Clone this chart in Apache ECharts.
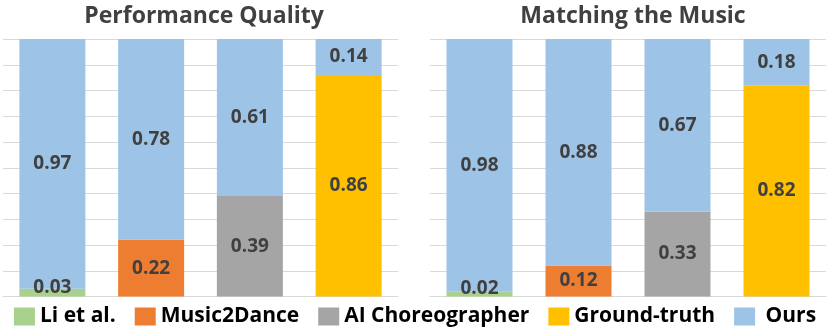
<!DOCTYPE html>
<html>
<head>
<meta charset="utf-8">
<script src="https://cdn.jsdelivr.net/npm/echarts@6/dist/echarts.min.js"></script>
<style>html,body{margin:0;padding:0;background:#fff;}#c{width:830px;height:336px;}</style>
</head>
<body>
<div id="c"></div>
<script>
const categories = ['Li et al.', 'Music2Dance', 'AI Choreographer', 'Ground-truth'];
const oursName = 'Ours';
const panelTitles = ['Performance Quality', 'Matching the Music'];
const perfBaseline = [0.03, 0.22, 0.39, 0.86];
const perfOurs = [0.97, 0.78, 0.61, 0.14];
const matchBaseline = [0.02, 0.12, 0.33, 0.82];
const matchOurs = [0.98, 0.88, 0.67, 0.18];

const colors = ['#A9D18E', '#ED7D31', '#A5A5A5', '#FFC000'];
const oursColor = '#9DC3E6';
const FONT = 'Open Sans';

const panels = [
  { base: perfBaseline, ours: perfOurs },
  { base: matchBaseline, ours: matchOurs }
];

const grids = [
  { left: 3, right: 432, top: 39, bottom: 39.5 },
  { left: 430, right: 4, top: 39, bottom: 39.5 }
];

const labelStyle = {
  show: true, position: 'inside', fontFamily: FONT, fontWeight: 'bold',
  fontSize: 19, color: '#404040',
  formatter: p => Number(p.value).toFixed(2)
};

const series = [];
panels.forEach((pan, g) => {
  categories.forEach((name, i) => {
    series.push({
      name, type: 'bar', xAxisIndex: g, yAxisIndex: g, stack: 's' + g,
      barWidth: 66, itemStyle: { color: colors[i] },
      label: Object.assign({}, labelStyle, pan.base[i] < 0.05 ? { offset: [0, -5] } : {}),
      data: pan.base.map((v, j) => j === i ? v : '-')
    });
  });
  series.push({
    name: oursName, type: 'bar', xAxisIndex: g, yAxisIndex: g, stack: 's' + g,
    barWidth: 66, itemStyle: { color: oursColor },
    label: labelStyle,
    data: pan.ours.slice()
  });
});

const option = {
  animation: false,
  color: colors.concat([oursColor]),
  title: panelTitles.map((t, g) => ({
    text: t, left: g === 0 ? 199 : 628, top: 0, textAlign: 'center',
    textStyle: { fontFamily: FONT, fontWeight: 'bold', fontSize: 23, color: '#404040' }
  })),
  legend: {
    data: categories.concat([oursName]), bottom: 4, left: 'center',
    icon: 'rect', itemWidth: 21, itemHeight: 18, itemGap: 19,
    formatter: n => n === oursName ? ' ' + n : n,
    textStyle: { fontFamily: FONT, fontWeight: 'bold', fontSize: 21, color: '#000' }
  },
  grid: grids,
  xAxis: grids.map((_, g) => ({
    type: 'category', gridIndex: g, data: categories,
    axisLine: { lineStyle: { color: '#D9D9D9' } },
    axisTick: { show: false }, axisLabel: { show: false }
  })),
  yAxis: grids.map((_, g) => ({
    type: 'value', gridIndex: g, min: 0, max: 1, interval: 0.1,
    axisLine: { show: false }, axisTick: { show: false }, axisLabel: { show: false },
    splitLine: { lineStyle: { color: '#D9D9D9' } }
  })),
  series
};
const chart = echarts.init(document.getElementById('c'), null, { renderer: 'canvas' });
chart.setOption(option);
</script>
</body>
</html>
